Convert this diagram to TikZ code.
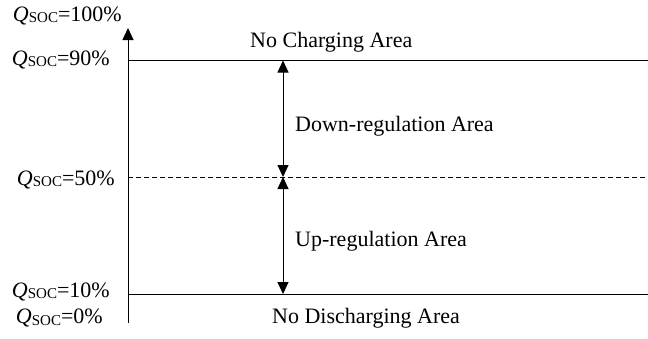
\documentclass[tikz,border=0pt]{standalone}
\usepackage{fontspec}
\setmainfont{Liberation Serif}
\usetikzlibrary{arrows.meta}
\newcommand{\qsoc}{\textit{Q}\raisebox{-1.5pt}{\fontsize{15}{15}\selectfont SOC}}
\begin{document}
\begin{tikzpicture}[x=1pt,y=-1pt,
  lvl/.style={line width=0.9pt},
  lbl/.style={font=\fontsize{22}{22}\selectfont, inner sep=0pt},
  head/.style={Triangle[length=12pt,width=11pt]},
  tip/.style={-{Triangle[length=12pt,width=11pt]}, line width=0.9pt}]
\useasboundingbox (0,0) rectangle (648,338);
% vertical axis
\coordinate (ax0) at (128,323);
\coordinate (ax1) at (128,28);
\draw[tip] (ax0) -- (ax1);
% level lines
\coordinate (l90a) at (128,60.5);  \coordinate (l90b) at (648,60.5);
\coordinate (l50a) at (128,177); \coordinate (l50b) at (648,177);
\coordinate (l10a) at (128,294); \coordinate (l10b) at (648,294);
\draw[lvl] (l90a) -- (l90b);
\draw[lvl, dash pattern=on 5pt off 3pt] (l50a) -- (l50b);
\draw[lvl] (l10a) -- (l10b);
% regulation arrows
\coordinate (p90) at (283,60.5);
\coordinate (p50) at (283,177);
\coordinate (p10) at (283,294);
\draw[line width=0.9pt, {Triangle[length=12pt,width=11pt]}-{Triangle[length=12pt,width=11pt]}] (p90) -- (p50);
\draw[line width=0.9pt, {Triangle[length=12pt,width=11pt]}-{Triangle[length=12pt,width=11pt]}] (p50) -- (p10);
% level labels
\node[lbl, anchor=base east] (q100) at (122,21) {\qsoc=100\%};
\node[lbl, anchor=base east] (q90) at (110,65) {\qsoc=90\%};
\node[lbl, anchor=base east] (q50) at (115,185) {\qsoc=50\%};
\node[lbl, anchor=base east] (q10) at (110,297) {\qsoc=10\%};
\node[lbl, anchor=base east] (q0) at (103,323.5) {\qsoc=0\%};
% area labels
\node[lbl, anchor=base west] (nc) at (250,47) {No Charging Area};
\node[lbl, anchor=base west] (dn) at (295,131) {Down-regulation Area};
\node[lbl, anchor=base west] (up) at (295,246) {Up-regulation Area};
\node[lbl, anchor=base west] (nd) at (272,323) {No Discharging Area};
\end{tikzpicture}
\end{document}
